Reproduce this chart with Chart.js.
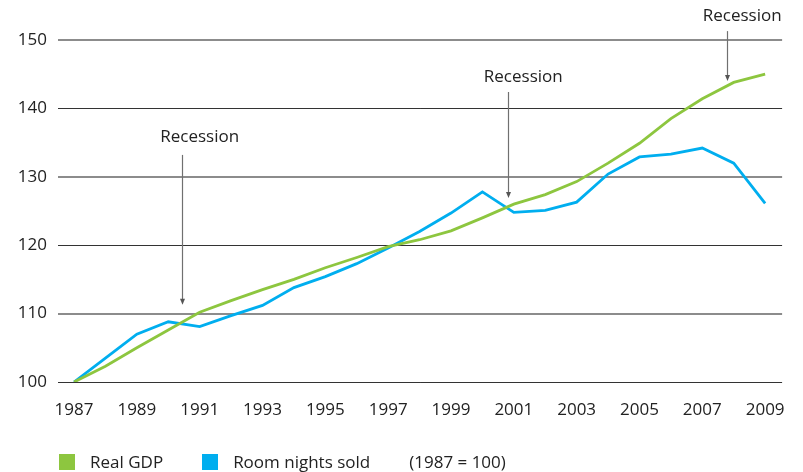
<!DOCTYPE html>
<html>
<head>
<meta charset="utf-8">
<script src="https://cdn.jsdelivr.net/npm/chart.js@4"></script>
<style>
  body { margin: 0; background: #fff; }
  #wrap { position: relative; width: 803px; height: 472px; }
  #legend { position: absolute; left: 59px; top: 450px; font: 17px "Open Sans", sans-serif; color: #222; display: flex; align-items: center; white-space: nowrap; }
  #legend .box { display: inline-block; width: 16px; height: 16px; margin-right: 15px; }
  #legend .item { display: flex; align-items: center; margin-right: 39px; }
</style>
</head>
<body>
<div id="wrap">
  <canvas id="grafico" width="803" height="472"></canvas>
  <div id="legend"></div>
</div>
<script>
// data (1987 = 100)
const years = [1987, 1988, 1989, 1990, 1991, 1992, 1993, 1994, 1995, 1996, 1997, 1998,
               1999, 2000, 2001, 2002, 2003, 2004, 2005, 2006, 2007, 2008, 2009];
const realGdp = [100, 102.3, 105.0, 107.6, 110.2, 111.9, 113.5, 115.0, 116.7, 118.2, 119.8, 120.8,
                 122.1, 124.0, 126.0, 127.4, 129.3, 132.0, 134.9, 138.5, 141.4, 143.8, 145.0];
const roomNights = [100, 103.5, 107.0, 108.8, 108.1, 109.7, 111.2, 113.8, 115.4, 117.3, 119.6, 122.0,
                    124.7, 127.8, 124.8, 125.1, 126.3, 130.4, 132.9, 133.3, 134.2, 132.0, 126.1];
const xTicks = [1987, 1989, 1991, 1993, 1995, 1997, 1999, 2001, 2003, 2005, 2007, 2009];
const yTicks = [100, 110, 120, 130, 140, 150];

// recession arrows: year of arrow, arrow from/to (index value), label spot
const recessions = [
  { year: 1990.45, from: 133.2, to: 111.3, labelYear: 1991.0, labelValue: 135.8 },
  { year: 2000.8, from: 142.4, to: 126.9, labelYear: 2001.3, labelValue: 144.6 },
  { year: 2007.8, from: 151.3, to: 144.0, labelYear: 2008.27, labelValue: 153.5 }
];

const textColor = '#222';
const fontFamily = '"Open Sans", sans-serif';

const recessionPlugin = {
  id: 'recessions',
  afterDatasetsDraw(chart) {
    const ctx = chart.ctx;
    const x = chart.scales.x, y = chart.scales.y;
    ctx.save();
    recessions.forEach(r => {
      const px = Math.round(x.getPixelForValue(r.year)) + 0.5;
      const y0 = y.getPixelForValue(r.from);
      const y1 = y.getPixelForValue(r.to);
      ctx.strokeStyle = '#707070';
      ctx.lineWidth = 1.2;
      ctx.beginPath();
      ctx.moveTo(px, y0);
      ctx.lineTo(px, y1 - 5);
      ctx.stroke();
      ctx.fillStyle = '#555';
      ctx.beginPath();
      ctx.moveTo(px - 2.5, y1 - 6);
      ctx.lineTo(px + 2.5, y1 - 6);
      ctx.lineTo(px, y1);
      ctx.closePath();
      ctx.fill();
      ctx.fillStyle = textColor;
      ctx.font = '17px ' + fontFamily;
      ctx.textAlign = 'center';
      ctx.textBaseline = 'middle';
      ctx.fillText('Recession', x.getPixelForValue(r.labelYear), y.getPixelForValue(r.labelValue));
    });
    ctx.restore();
  }
};

const ctx = document.getElementById('grafico').getContext('2d');
const chart = new Chart(ctx, {
  type: 'line',
  data: {
    datasets: [
      {
        label: 'Real GDP',
        data: years.map((yr, i) => ({ x: yr, y: realGdp[i] })),
        borderColor: '#8dc63f',
        backgroundColor: '#8dc63f',
        borderWidth: 2.8,
        pointRadius: 0,
        tension: 0
      },
      {
        label: 'Room nights sold',
        data: years.map((yr, i) => ({ x: yr, y: roomNights[i] })),
        borderColor: '#00aeef',
        backgroundColor: '#00aeef',
        borderWidth: 2.8,
        pointRadius: 0,
        tension: 0
      }
    ]
  },
  options: {
    responsive: false,
    animation: false,
    layout: { padding: { top: 40, right: 18, left: 0, bottom: 0 } },
    plugins: { legend: { display: false }, tooltip: { enabled: false } },
    scales: {
      x: {
        type: 'linear',
        min: 1986.49,
        max: 2009.54,
        afterBuildTicks: s => { s.ticks = xTicks.map(v => ({ value: v })); },
        afterFit: s => { s.height = 90; },
        grid: { display: false, drawTicks: false },
        border: { display: false },
        ticks: {
          autoSkip: false,
          maxRotation: 0,
          padding: 18,
          color: textColor,
          font: { family: fontFamily, size: 17 },
          callback: v => String(v)
        }
      },
      y: {
        min: 100,
        max: 150,
        afterBuildTicks: s => { s.ticks = yTicks.map(v => ({ value: v })); },
        afterFit: s => { s.width = 58; },
        border: { display: false },
        grid: {
          drawTicks: false,
          color: c => (c.tick && c.tick.value % 20 === 0) ? '#333' : '#8c8c8c',
          lineWidth: c => (c.tick && c.tick.value % 20 === 0) ? 1 : 2
        },
        ticks: {
          padding: 11,
          color: textColor,
          font: { family: fontFamily, size: 17 },
          callback: v => String(v)
        }
      }
    }
  },
  plugins: [recessionPlugin]
});

// legend below the chart
const legend = document.getElementById('legend');
chart.data.datasets.forEach(ds => {
  const item = document.createElement('span');
  item.className = 'item';
  item.innerHTML = '<span class="box" style="background:' + ds.borderColor + '"></span>' + ds.label;
  legend.appendChild(item);
});
const note = document.createElement('span');
note.textContent = '(1987 = 100)';
legend.appendChild(note);
</script>
</body>
</html>
